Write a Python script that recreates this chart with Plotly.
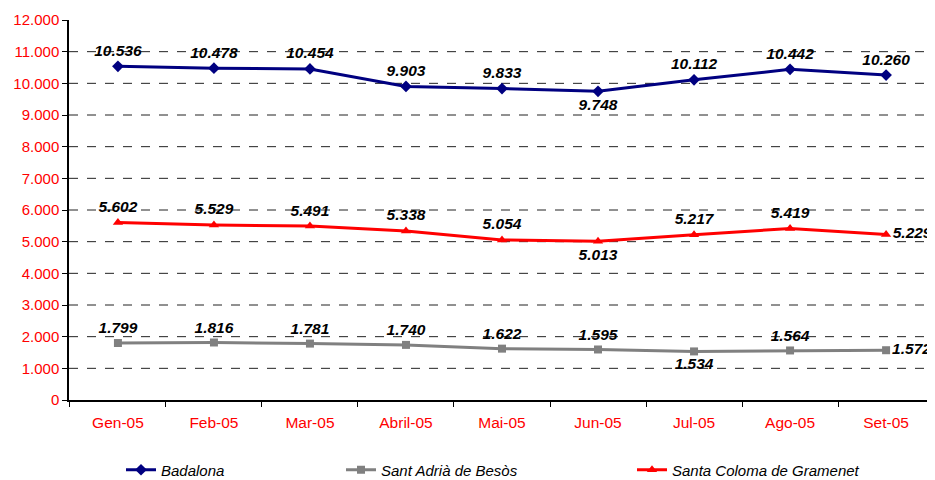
import plotly.graph_objects as go

months = ["Gen-05", "Feb-05", "Mar-05", "Abril-05", "Mai-05", "Jun-05", "Jul-05", "Ago-05", "Set-05"]
badalona = [10536, 10478, 10454, 9903, 9833, 9748, 10112, 10442, 10260]
sant_adria = [1799, 1816, 1781, 1740, 1622, 1595, 1534, 1564, 1572]
santa_coloma = [5602, 5529, 5491, 5338, 5054, 5013, 5217, 5419, 5229]
y_ticks = list(range(0, 12001, 1000))

pos_bad = ["top center"] * 5 + ["bottom center", "top center", "top center", "top center"]
pos_adr = ["top center"] * 6 + ["bottom center", "top center", "middle right"]
pos_col = ["top center"] * 5 + ["bottom center", "top center", "top center", "middle right"]

lab_font = dict(family="Liberation Sans, Arial", size=15.5, color="black")

# page body has an 8px margin, so the figure is offset by 8px
W, H = 927, 472

fig = go.Figure()
fig.add_trace(go.Scatter(
    x=months, y=badalona, name="Badalona", mode="lines+markers+text",
    line=dict(color="#000080", width=3), marker=dict(symbol="diamond", size=9, color="#000080"),
    texttemplate="<b><i>%{y:,d}</i></b>", textposition=pos_bad, textfont=lab_font,
    cliponaxis=False, legend="legend"))
fig.add_trace(go.Scatter(
    x=months, y=sant_adria, name="Sant Adrià de Besòs", mode="lines+markers+text",
    line=dict(color="#808080", width=3), marker=dict(symbol="square", size=8, color="#808080"),
    texttemplate="<b><i>%{y:,d}</i></b>", textposition=pos_adr, textfont=lab_font,
    cliponaxis=False, legend="legend2"))
fig.add_trace(go.Scatter(
    x=months, y=santa_coloma, name="Santa Coloma de Gramenet", mode="lines+markers+text",
    line=dict(color="#FF0000", width=3), marker=dict(symbol="triangle-up", size=9, color="#FF0000"),
    texttemplate="<b><i>%{y:,d}</i></b>", textposition=pos_col, textfont=lab_font,
    cliponaxis=False, legend="legend3"))

# dashed gridlines (none at the top of the plot)
for v in y_ticks[1:-1]:
    fig.add_shape(type="line", xref="paper", yref="y", x0=0, x1=1, y0=v, y1=v,
                  line=dict(color="#222222", width=1, dash="dash"), layer="below")

leg_common = dict(orientation="h", xref="container", yref="container", y=10 / H,
                  yanchor="middle", xanchor="left", bgcolor="rgba(0,0,0,0)",
                  font=dict(family="Liberation Sans, Arial", size=15, color="black", style="italic"))

fig.update_layout(
    width=W, height=H,
    margin=dict(l=61, r=0, t=12, b=80, autoexpand=False),
    plot_bgcolor="white", paper_bgcolor="white",
    separators=",.",
    showlegend=True,
    legend=dict(x=113 / W, **leg_common),
    legend2=dict(x=333 / W, **leg_common),
    legend3=dict(x=624 / W, **leg_common),
    font=dict(family="Liberation Sans, Arial"),
)
fig.update_xaxes(
    showline=True, linecolor="black", linewidth=1.5, automargin=False,
    ticks="outside", ticklen=5, tickcolor="black", tickson="boundaries",
    ticklabelstandoff=8,
    tickfont=dict(color="red", size=15.5), showgrid=False,
)
fig.update_yaxes(
    range=[0, 12000], tickvals=y_ticks, tickformat=",d", automargin=False,
    showline=True, linecolor="black", linewidth=1.5,
    ticks="outside", ticklen=5, tickcolor="black",
    tickfont=dict(color="red", size=15),
    showgrid=False, zeroline=False,
)
fig.write_html("out.html")
